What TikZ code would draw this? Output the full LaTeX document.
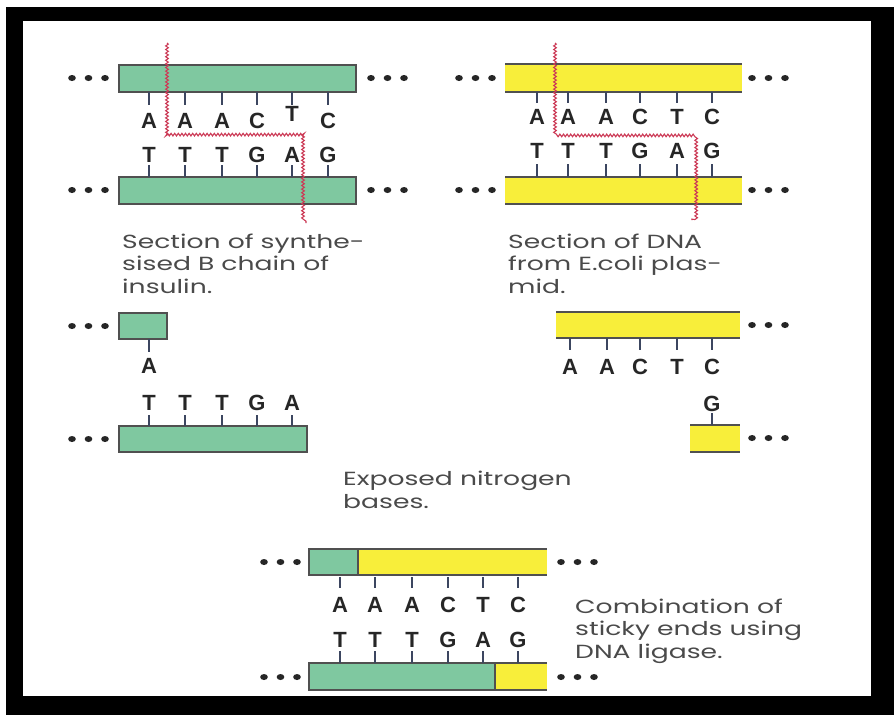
\documentclass[tikz,border=0pt]{standalone}
\usepackage{fontspec}
\setmainfont{Poppins}[FakeStretch=1.4]
\newfontfamily\basefont{Liberation Sans}
\usetikzlibrary{decorations.pathmorphing}

\definecolor{strandgreen}{HTML}{7FC8A0}
\definecolor{strandyellow}{HTML}{F8EE3A}
\definecolor{edgegrey}{HTML}{505050}
\definecolor{tickcol}{HTML}{3C4660}
\definecolor{cutred}{HTML}{CC3A56}
\definecolor{labelgrey}{HTML}{4A4A4A}

\tikzset{
  strandedge/.style={draw=edgegrey, line width=1.1pt},
  basetick/.style={draw=tickcol, line width=2pt},
  nucleo/.style={font=\basefont\bfseries\fontsize{22}{22}\selectfont, text=black!85, anchor=base, inner sep=0pt},
  caption/.style={font=\fontsize{19}{22.5}\selectfont, text=labelgrey, anchor=base west, align=left, inner sep=0pt},
  cutline/.style={draw=cutred, line width=1.1pt, decorate,
    decoration={snake, amplitude=1.3pt, segment length=3.6pt}},
  enddot/.style={fill=black!85, draw=none},
}

% three dots marking a strand that continues
\newcommand{\strandends}[2]{%
  \foreach \k in {0,1,2} \fill[enddot] ({#1+16.5*\k},#2) ellipse (3.8pt and 3pt);}

% strand backbones: green fully outlined, yellow edged top and bottom
\newcommand{\greenstrand}[4]{%
  \fill[strandgreen] (#1,#2) rectangle (#3,#4);
  \draw[strandedge] (#1,#2) rectangle (#3,#4);}
\newcommand{\yellowstrand}[4]{%
  \fill[strandyellow] (#1,#2) rectangle (#3,#4);
  \draw[strandedge] (#1,#2) -- (#3,#2) (#1,#4) -- (#3,#4);}

\begin{document}
\begin{tikzpicture}[x=1pt, y=-1pt]
  \useasboundingbox (0,0) rectangle (894,715);
  \fill[white] (0,0) rectangle (894,715);
  \fill[black] (6,7) rectangle (894,715);
  \fill[white] (23,21) rectangle (871,696);

  % ---------- synthesised B chain (top left) ----------
  \greenstrand{119}{65}{356}{92}
  \greenstrand{119}{177}{356}{204}
  \strandends{72}{78} \strandends{371}{78}
  \strandends{72}{190} \strandends{371}{190}
  \foreach \x/\t/\b [count=\i] in {149/A/128,185/A/128,222/A/128,257/C/128,292/T/121,328/C/128} {
    \draw[basetick] (\x,92) -- (\x,105);
    \node[nucleo] (tlu\i) at (\x,\b) {\t};
  }
  \foreach \x/\t [count=\i] in {149/T,185/T,222/T,257/G,292/A,328/G} {
    \draw[basetick] (\x,165) -- (\x,177);
    \node[nucleo] (tll\i) at (\x,162) {\t};
  }
  \draw[cutline] (167,43) -- (167,135) -- (306,135) -- (306,223);
  % multi-line captions are anchored on the baseline of their last line
  \node[caption] (capinsulin) at (122,293) {Section of synthe-\\sised B chain of\\insulin.};

  % ---------- E. coli plasmid (top right) ----------
  \yellowstrand{505}{64}{742}{92}
  \yellowstrand{505}{177}{742}{204}
  \strandends{459}{78} \strandends{752}{78}
  \strandends{459}{190} \strandends{752}{190}
  \foreach \x/\t [count=\i] in {537/A,568/A,606/A,640/C,677/T,712/C} {
    \draw[basetick] (\x,92) -- (\x,103);
    \node[nucleo] (tru\i) at (\x,124) {\t};
  }
  \foreach \x/\t [count=\i] in {537/T,568/T,606/T,640/G,677/A,712/G} {
    \draw[basetick] (\x,164) -- (\x,177);
    \node[nucleo] (trl\i) at (\x,158) {\t};
  }
  \draw[cutline] (555,43) -- (555,134) -- (692,134) -- (692,220);
  \node[caption] (capplasmid) at (508,293) {Section of DNA\\from E.coli plas-\\mid.};

  % ---------- cut insulin strands (middle left) ----------
  \greenstrand{119}{313}{167}{339}
  \strandends{72}{326}
  \draw[basetick] (149,339) -- (149,352);
  \node[nucleo] (mla) at (149,373) {A};
  \greenstrand{119}{426}{307}{452}
  \strandends{72}{439}
  \foreach \x/\t [count=\i] in {149/T,185/T,222/T,257/G,292/A} {
    \draw[basetick] (\x,415) -- (\x,426);
    \node[nucleo] (mll\i) at (\x,410) {\t};
  }

  % ---------- cut plasmid strands (middle right) ----------
  \yellowstrand{556}{312}{740}{338}
  \strandends{752}{325}
  \foreach \x/\t [count=\i] in {570/A,607/A,640/C,677/T,712/C} {
    \draw[basetick] (\x,338) -- (\x,350);
    \node[nucleo] (mru\i) at (\x,374) {\t};
  }
  \yellowstrand{690}{425}{740}{452}
  \strandends{752}{438}
  \draw[basetick] (712,413) -- (712,425);
  \node[nucleo] (mrg) at (712,411) {G};

  \node[caption] (capexposed) at (343,508) {Exposed nitrogen\\bases.};

  % ---------- recombined strands (bottom) ----------
  \fill[strandyellow] (358,549) rectangle (547,575);
  \draw[strandedge] (358,549) -- (547,549) (358,575) -- (547,575);
  \greenstrand{309}{549}{358}{575}
  \fill[strandyellow] (495,663) rectangle (547,690);
  \draw[strandedge] (495,663) -- (547,663) (495,690) -- (547,690);
  \greenstrand{309}{663}{495}{690}
  \strandends{264}{562} \strandends{561}{562}
  \strandends{264}{677} \strandends{561}{677}
  \foreach \x/\t [count=\i] in {340/A,375/A,412/A,448/C,483/T,518/C} {
    \draw[basetick] (\x,577) -- (\x,588);
    \node[nucleo] (bu\i) at (\x,612) {\t};
  }
  \foreach \x/\t [count=\i] in {340/T,375/T,412/T,448/G,483/A,518/G} {
    \draw[basetick] (\x,651) -- (\x,663);
    \node[nucleo] (bl\i) at (\x,647) {\t};
  }
  \node[caption] (capligase) at (575,658) {Combination of\\sticky ends using\\DNA ligase.};
\end{tikzpicture}
\end{document}
